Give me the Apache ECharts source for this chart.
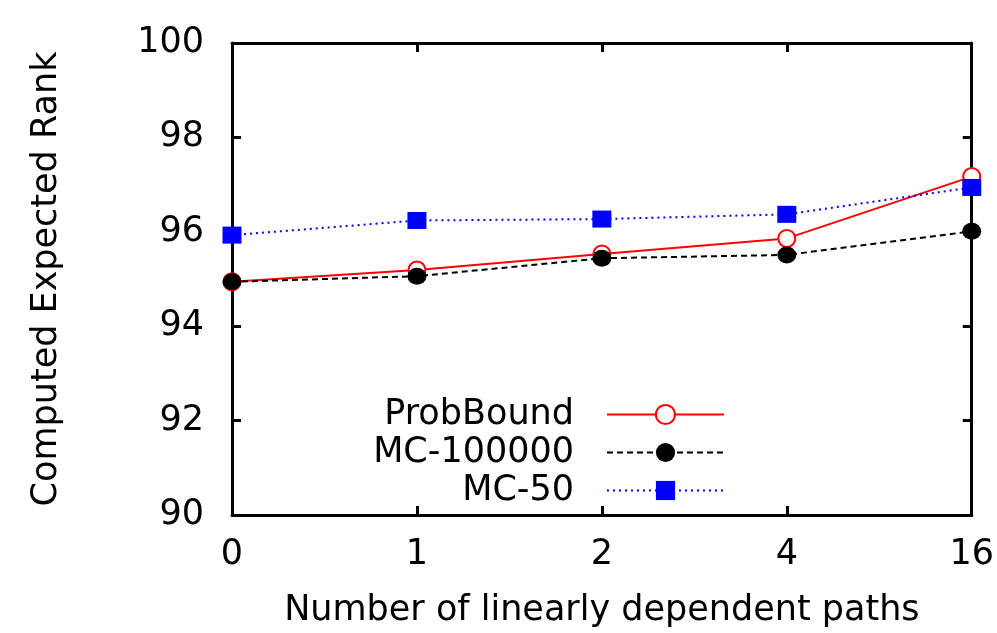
<!DOCTYPE html>
<html>
<head>
<meta charset="utf-8">
<script src="https://cdn.jsdelivr.net/npm/echarts@6/dist/echarts.min.js"></script>
<style>
  html, body { margin: 0; padding: 0; background: #fff; }
  #main { width: 997px; height: 633px; }
</style>
</head>
<body>
<div id="main"></div>
<script>
var categories = ['0', '1', '2', '4', '16'];
var probBound = [94.94, 95.19, 95.53, 95.86, 97.17];
var mc100000 = [94.94, 95.06, 95.44, 95.51, 96.01];
var mc50 = [95.93, 96.24, 96.27, 96.37, 96.94];

var myChart = echarts.init(document.getElementById('main'));
var font = 'DejaVu Sans';
var fs = 35;

var mirrorAxis = {
    axisLine: { show: true, lineStyle: { color: '#000', width: 3 } },
    axisTick: { show: true, inside: true, length: 9, lineStyle: { color: '#000', width: 3 } },
    axisLabel: { show: false },
    splitLine: { show: false }
};

option = {
    backgroundColor: '#fff',
    animation: false,
    grid: { left: 232, right: 22, top: 43, bottom: 116 },
    legend: {
        orient: 'vertical',
        align: 'right',
        right: 267,
        top: 392,
        itemWidth: 117,
        itemHeight: 24,
        itemGap: 3,
        textStyle: { fontFamily: font, fontSize: fs, color: '#000', padding: [0, 28, 0, 0] },
        data: ['ProbBound', 'MC-100000', 'MC-50']
    },
    xAxis: [
        {
            type: 'category',
            data: categories,
            boundaryGap: false,
            name: 'Number of linearly dependent paths',
            nameLocation: 'middle',
            nameGap: 78,
            nameTextStyle: { fontFamily: font, fontSize: fs, color: '#000' },
            axisLine: { lineStyle: { color: '#000', width: 3 } },
            axisTick: { inside: true, length: 9, alignWithLabel: true, lineStyle: { color: '#000', width: 3 } },
            axisLabel: { fontFamily: font, fontSize: fs, color: '#000', margin: 22 },
            splitLine: { show: false }
        },
        Object.assign({ type: 'category', data: categories, boundaryGap: false, position: 'top' }, mirrorAxis)
    ],
    yAxis: [
        {
            type: 'value',
            min: 90,
            max: 100,
            interval: 2,
            name: 'Computed Expected Rank',
            nameLocation: 'middle',
            nameGap: 168,
            nameTextStyle: { fontFamily: font, fontSize: fs, color: '#000' },
            axisLine: { show: true, lineStyle: { color: '#000', width: 3 } },
            axisTick: { show: true, inside: true, length: 9, lineStyle: { color: '#000', width: 3 } },
            axisLabel: { fontFamily: font, fontSize: fs, color: '#000', margin: 28 },
            splitLine: { show: false }
        },
        Object.assign({ type: 'value', min: 90, max: 100, interval: 2, position: 'right' }, mirrorAxis)
    ],
    series: [
        {
            name: 'ProbBound',
            type: 'line',
            data: probBound,
            symbol: 'emptyCircle',
            symbolSize: 17,
            itemStyle: { color: '#ff0000', borderColor: '#ff0000', borderWidth: 2 },
            lineStyle: { color: '#ff0000', width: 2, type: 'solid' }
        },
        {
            name: 'MC-100000',
            type: 'line',
            data: mc100000,
            symbol: 'circle',
            symbolSize: [19, 17],
            itemStyle: { color: '#000' },
            lineStyle: { color: '#000', width: 2, type: [6, 4] }
        },
        {
            name: 'MC-50',
            type: 'line',
            data: mc50,
            symbol: 'rect',
            symbolSize: [19, 17],
            itemStyle: { color: '#0000ff' },
            lineStyle: { color: '#0000ff', width: 2, type: [2, 4] }
        }
    ]
};

myChart.setOption(option);
</script>
</body>
</html>
